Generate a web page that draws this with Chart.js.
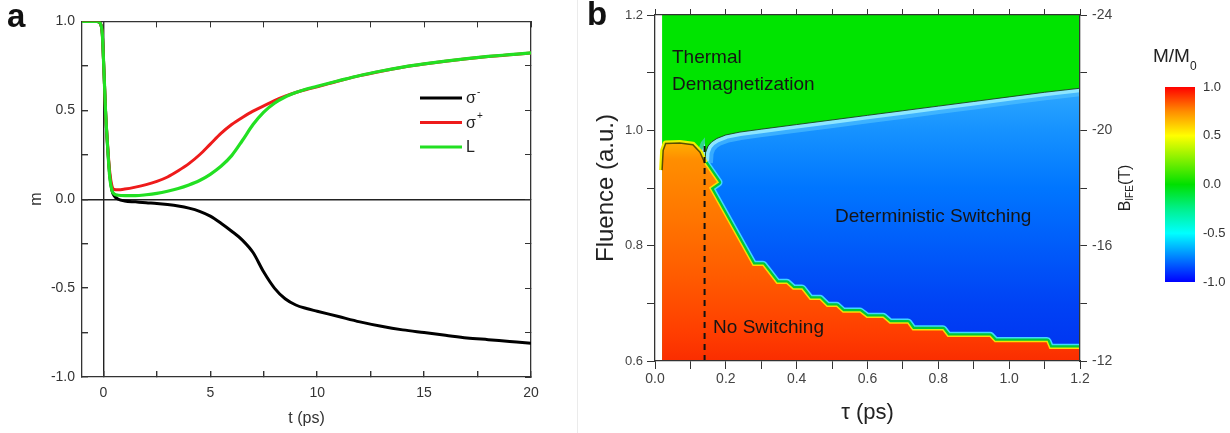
<!DOCTYPE html>
<html>
<head>
<meta charset="utf-8">
<script src="https://cdn.jsdelivr.net/npm/chart.js@4.4.1/dist/chart.umd.min.js"></script>
<style>
  body { margin:0; background:#fff; width:1230px; height:433px; overflow:hidden; position:relative; }
  canvas { position:absolute; top:0; }
  #sep { position:absolute; left:577px; top:0; width:1px; height:433px; background:#ebebeb; }
</style>
</head>
<body>
<canvas id="panelA" width="560" height="433" style="left:0"></canvas>
<div id="sep"></div>
<canvas id="panelB" width="570" height="433" style="left:580px"></canvas>
<canvas id="cbar" width="80" height="433" style="left:1150px"></canvas>
<script>
// ---------- panel a : m(t) ----------
const aTime = [-1, -0.3, -0.15, -0.05, 0, 0.05, 0.1, 0.2, 0.3, 0.4, 0.5, 0.7, 1, 1.5, 2, 2.5, 3, 3.5, 4, 4.5,
  5, 5.5, 6, 6.5, 7, 7.5, 8, 8.5, 9, 9.5, 10, 11, 12, 13, 14, 15, 16, 17, 18, 19, 20];
const sigmaMinus = [1, 1, 0.99, 0.93, 0.8, 0.65, 0.5, 0.29, 0.13, 0.05, 0.02, 0.0, -0.01, -0.015, -0.02,
  -0.024, -0.03, -0.038, -0.05, -0.068, -0.095, -0.135, -0.18, -0.23, -0.3, -0.41, -0.5, -0.56, -0.595, -0.615,
  -0.63, -0.66, -0.69, -0.715, -0.735, -0.75, -0.765, -0.78, -0.79, -0.8, -0.81];
const sigmaPlus = [1, 1, 0.99, 0.93, 0.8, 0.65, 0.5, 0.3, 0.15, 0.075, 0.055, 0.053, 0.057, 0.068, 0.082,
  0.1, 0.125, 0.16, 0.2, 0.25, 0.31, 0.37, 0.42, 0.46, 0.495, 0.525, 0.555, 0.58, 0.6, 0.617,
  0.632, 0.665, 0.695, 0.72, 0.742, 0.76, 0.776, 0.79, 0.802, 0.812, 0.822];
const linearL = [1, 1, 0.99, 0.93, 0.8, 0.65, 0.5, 0.29, 0.12, 0.05, 0.03, 0.022, 0.02, 0.02, 0.025,
  0.033, 0.045, 0.06, 0.08, 0.105, 0.14, 0.185, 0.245, 0.33, 0.42, 0.49, 0.54, 0.575, 0.6, 0.62,
  0.635, 0.666, 0.696, 0.721, 0.743, 0.761, 0.777, 0.791, 0.803, 0.813, 0.823];
const aTimeTicks = [0, 2.5, 5, 7.5, 10, 12.5, 15, 17.5, 20];

// ---------- panel b : phase diagram ----------
const bDomainTau = [0.02, 1.2];
const bDomainF = [1.2, 1.2];
// switching threshold (green / blue border)
const bThreshTau = [0.141, 0.143, 0.15, 0.16, 0.175, 0.2, 0.24, 0.3, 0.4, 0.5, 0.6, 0.7, 0.8, 0.9, 1.0, 1.1, 1.2];
const bThreshF = [0.944, 0.962, 0.973, 0.98, 0.986, 0.992, 0.997, 1.002, 1.01, 1.018, 1.026, 1.034, 1.042, 1.05, 1.058, 1.066, 1.073];
// top of the "no switching" region
const bEdgeTau = [0.02, 0.023, 0.03, 0.07, 0.107, 0.127, 0.141, 0.178, 0.155, 0.277, 0.305, 0.344, 0.372, 0.39,
  0.415, 0.438, 0.466, 0.486, 0.513, 0.531, 0.579, 0.598, 0.644, 0.663, 0.714, 0.728, 0.813, 0.827, 0.946,
  0.96, 1.107, 1.115, 1.2];
const bEdgeF = [0.931, 0.965, 0.977, 0.978, 0.975, 0.962, 0.943, 0.91, 0.9, 0.766, 0.766, 0.735, 0.735, 0.725,
  0.725, 0.707, 0.707, 0.695, 0.695, 0.685, 0.685, 0.676, 0.676, 0.666, 0.666, 0.654, 0.654, 0.643, 0.643,
  0.634, 0.634, 0.622, 0.622];
const bDashTau = [0.14, 0.14];
const bDashF = [0.6, 0.978];
const bNotes = [
  {text: 'Thermal', tau: 0.048, f: 1.125},
  {text: 'Demagnetization', tau: 0.048, f: 1.079},
  {text: 'Deterministic Switching', tau: 0.508, f: 0.85},
  {text: 'No Switching', tau: 0.164, f: 0.657}
];

// ---------- colour bar ----------
const cbarRange = [-1, 1];
const cbarStops = [[1, '#ff0000'], [0.75, '#ff8c00'], [0.5, '#ffff00'], [0.25, '#80f000'], [0, '#00e000'],
  [-0.25, '#00f08c'], [-0.5, '#00ffff'], [-0.75, '#0080ff'], [-1, '#0000ff']];

const FONT = "'Liberation Sans', Arial, sans-serif";
Chart.defaults.font.family = FONT;
Chart.defaults.color = '#333';

const pts = (xs, ys) => xs.map((x, i) => ({x: x, y: ys[i]}));

function vGradient(chart, scaleId, stops) {
  const {ctx, chartArea, scales} = chart;
  if (!chartArea) return 'rgba(0,0,0,0)';
  const s = scales[scaleId];
  const y0 = s.getPixelForValue(stops[0][0]);
  const y1 = s.getPixelForValue(stops[stops.length - 1][0]);
  const g = ctx.createLinearGradient(0, y0, 0, y1);
  stops.forEach(([v, c]) => g.addColorStop(Math.min(1, Math.max(0, (s.getPixelForValue(v) - y0) / (y1 - y0))), c));
  return g;
}

// ---- panel a
const aDecor = {
  id: 'aDecor',
  afterDatasetsDraw(chart) {
    const ctx = chart.ctx;
    ctx.save();
    chart.data.datasets.forEach((ds, i) => {
      const y = 98 + i * 24.5;
      ctx.strokeStyle = ds.borderColor;
      ctx.lineWidth = 3;
      ctx.beginPath();
      ctx.moveTo(420, y);
      ctx.lineTo(462, y);
      ctx.stroke();
      const base = ds.label.replace(/[⁻⁺]/, '');
      const sup = ds.label.includes('⁻') ? '-' : (ds.label.includes('⁺') ? '+' : '');
      ctx.fillStyle = '#222';
      ctx.font = '16px ' + FONT;
      ctx.textBaseline = 'middle';
      ctx.fillText(base, 466, y + 1);
      if (sup) {
        const w = ctx.measureText(base).width;
        ctx.font = '10px ' + FONT;
        ctx.fillText(sup, 466 + w + 1, y - 6);
      }
    });
    ctx.fillStyle = '#111';
    ctx.font = 'bold 33px ' + FONT;
    ctx.textBaseline = 'alphabetic';
    ctx.fillText('a', 7, 27);
    ctx.restore();
  }
};

new Chart(document.getElementById('panelA'), {
  type: 'line',
  data: {
    datasets: [
      {label: 'σ⁻', data: pts(aTime, sigmaMinus), borderColor: '#000000', borderWidth: 3, order: 3},
      {label: 'σ⁺', data: pts(aTime, sigmaPlus), borderColor: '#ee1b1b', borderWidth: 3, order: 2},
      {label: 'L', data: pts(aTime, linearL), borderColor: '#22e022', borderWidth: 3.2, order: 1}
    ]
  },
  options: {
    responsive: false, animation: false, devicePixelRatio: 1,
    layout: {padding: {left: 24, top: 12, right: 29, bottom: 0}},
    elements: {point: {radius: 0}, line: {cubicInterpolationMode: 'monotone', fill: false}},
    plugins: {legend: {display: false}, tooltip: {enabled: false}},
    scales: {
      x: {
        type: 'linear', min: -1, max: 20,
        afterBuildTicks: s => { s.ticks = aTimeTicks.map(v => ({value: v})); },
        afterFit: s => { s.height = 56; },
        border: {color: '#333', width: 1.3},
        grid: {color: c => (c.tick && c.tick.value === 0) ? '#222' : 'rgba(0,0,0,0)', lineWidth: 1.4,
               tickColor: '#333', tickLength: -6},
        ticks: {padding: 14, font: {size: 14}, color: '#333', maxRotation: 0, autoSkip: false,
                callback: v => v % 5 === 0 ? String(v) : ''},
        title: {display: true, text: 't (ps)', font: {size: 16}, color: '#333', padding: {top: 0, bottom: 5}}
      },
      x2: {
        type: 'linear', position: 'top', min: -1, max: 20,
        afterBuildTicks: s => { s.ticks = aTimeTicks.map(v => ({value: v})); },
        afterFit: s => { s.height = 0; },
        border: {color: '#333', width: 1.3},
        grid: {drawOnChartArea: false, tickColor: '#333', tickLength: -6},
        ticks: {display: false}
      },
      y: {
        type: 'linear', min: -1, max: 1,
        afterFit: s => { s.width = 58; },
        border: {color: '#333', width: 1.3},
        grid: {color: c => (c.tick && c.tick.value === 0) ? '#222' : 'rgba(0,0,0,0)', lineWidth: 1.4,
               tickColor: '#333', tickLength: -6},
        ticks: {stepSize: 0.25, padding: 13, font: {size: 14}, color: '#333',
                callback: (v, i) => i % 2 ? '' : v.toFixed(1)},
        title: {display: true, text: 'm', font: {size: 16}, color: '#333', padding: {top: 3, bottom: 0}}
      },
      y2: {
        type: 'linear', position: 'right', min: -1, max: 1,
        afterFit: s => { s.width = 0; },
        border: {color: '#333', width: 1.3},
        grid: {drawOnChartArea: false, tickColor: '#333', tickLength: -6},
        ticks: {display: false, stepSize: 0.25}
      }
    }
  },
  plugins: [aDecor]
});

// ---- panel b
const bDecor = {
  id: 'bDecor',
  afterDatasetsDraw(chart) {
    const {ctx, scales} = chart;
    ctx.save();
    ctx.fillStyle = '#151515';
    ctx.font = '19px ' + FONT;
    ctx.textBaseline = 'middle';
    bNotes.forEach(n => ctx.fillText(n.text, scales.x.getPixelForValue(n.tau), scales.y.getPixelForValue(n.f)));
    ctx.restore();
  },
  afterDraw(chart) {
    const ctx = chart.ctx;
    ctx.save();
    // right axis title B_IFE(T), reading upwards
    ctx.translate(550, 188);
    ctx.rotate(-Math.PI / 2);
    ctx.fillStyle = '#222';
    ctx.textBaseline = 'alphabetic';
    ctx.font = '16px ' + FONT;
    const wB = ctx.measureText('B').width;
    const wT = ctx.measureText('(T)').width;
    ctx.font = '10px ' + FONT;
    const wS = ctx.measureText('IFE').width;
    let x = -(wB + wS + wT) / 2;
    ctx.font = '16px ' + FONT;
    ctx.fillText('B', x, 0);
    x += wB;
    ctx.font = '10px ' + FONT;
    ctx.fillText('IFE', x, 3);
    x += wS;
    ctx.font = '16px ' + FONT;
    ctx.fillText('(T)', x, 0);
    ctx.restore();
    ctx.save();
    ctx.fillStyle = '#111';
    ctx.font = 'bold 33px ' + FONT;
    ctx.fillText('b', 7, 25);
    ctx.restore();
  }
};

const green = 'rgb(0,228,0)';
const blueStops = [[1.073, 'rgb(45,168,255)'], [1.0, 'rgb(22,146,255)'], [0.9, 'rgb(0,118,255)'],
  [0.8, 'rgb(0,92,250)'], [0.7, 'rgb(0,66,245)'], [0.6, 'rgb(0,50,240)']];
const orangeStops = [[0.98, 'rgb(255,178,0)'], [0.95, 'rgb(255,142,0)'], [0.85, 'rgb(255,118,0)'],
  [0.75, 'rgb(255,92,0)'], [0.65, 'rgb(255,62,0)'], [0.6, 'rgb(250,45,0)']];
const onGreen = c => c.p0.parsed.x < 0.14;

new Chart(document.getElementById('panelB'), {
  type: 'line',
  data: {
    datasets: [
      {label: 'thermal', data: pts(bDomainTau, bDomainF), fill: 'start', backgroundColor: green,
       borderWidth: 0, order: 10},
      {label: 'switching', data: pts(bThreshTau, bThreshF), fill: 'start',
       backgroundColor: c => vGradient(c.chart, 'y', blueStops), borderWidth: 0, order: 9},
      {label: 'threshold halo', data: pts(bThreshTau, bThreshF), fill: false, borderJoinStyle: 'round',
       borderColor: 'rgba(90,200,255,0.55)', borderWidth: 16, order: 8},
      {label: 'threshold glow', data: pts(bThreshTau, bThreshF), fill: false, borderJoinStyle: 'round',
       borderColor: 'rgba(150,235,255,0.9)', borderWidth: 8, order: 7},
      {label: 'thermal cover', data: pts(bThreshTau, bThreshF), fill: 'end', backgroundColor: green,
       borderColor: 'rgba(25,55,25,0.85)', borderWidth: 1, order: 6},
      {label: 'edge glow', data: pts(bEdgeTau, bEdgeF), fill: false, borderWidth: 9, borderJoinStyle: 'round',
       borderColor: '#3fd8ff', segment: {borderColor: c => onGreen(c) ? 'rgba(0,0,0,0)' : '#3fd8ff'}, order: 5},
      {label: 'edge band', data: pts(bEdgeTau, bEdgeF), fill: false, borderWidth: 6, borderJoinStyle: 'round',
       borderColor: '#00c838', segment: {borderColor: c => onGreen(c) ? '#eef000' : '#00c838'}, order: 4},
      {label: 'no switching', data: pts(bEdgeTau, bEdgeF), fill: 'start',
       backgroundColor: c => vGradient(c.chart, 'y', orangeStops), borderWidth: 1.5,
       borderColor: 'rgba(255,235,0,0.9)',
       segment: {borderColor: c => onGreen(c) ? 'rgba(50,50,0,0.8)' : 'rgba(255,235,0,0.9)'}, order: 3},
      {label: 'tau limit', data: pts(bDashTau, bDashF), fill: false, borderColor: '#111', borderWidth: 2,
       borderDash: [6, 5], order: 1}
    ]
  },
  options: {
    responsive: false, animation: false, devicePixelRatio: 1,
    layout: {padding: {left: 8, top: 0, right: 0, bottom: 0}},
    elements: {point: {radius: 0}, line: {tension: 0}},
    plugins: {legend: {display: false}, tooltip: {enabled: false}},
    scales: {
      x: {
        type: 'linear', min: 0, max: 1.2,
        afterFit: s => { s.height = 72; },
        border: {color: '#333', width: 1.3, z: 1},
        grid: {drawOnChartArea: false, tickColor: '#333', tickLength: 8},
        ticks: {stepSize: 0.1, autoSkip: false, maxRotation: 0, padding: 2, font: {size: 14}, color: '#444',
                callback: (v, i) => i % 2 ? '' : v.toFixed(1)},
        title: {display: true, text: 'τ (ps)', font: {size: 22}, color: '#222', padding: {top: 0, bottom: 7}}
      },
      x2: {
        type: 'linear', position: 'top', min: 0, max: 1.2,
        afterFit: s => { s.height = 15; },
        border: {color: '#333', width: 1.3, z: 1},
        grid: {drawOnChartArea: false, tickColor: '#333', tickLength: 6},
        ticks: {display: false, stepSize: 0.1}
      },
      y: {
        type: 'linear', min: 0.6, max: 1.2,
        afterFit: s => { s.width = 67; },
        border: {color: '#333', width: 1.3, z: 1},
        grid: {drawOnChartArea: false, tickColor: '#333', tickLength: 8},
        ticks: {stepSize: 0.1, padding: 4, font: {size: 13}, color: '#444',
                callback: (v, i) => i % 2 ? '' : v.toFixed(1)},
        title: {display: true, text: 'Fluence (a.u.)', font: {size: 24}, color: '#222', padding: {top: 4, bottom: 0}}
      },
      y2: {
        type: 'linear', position: 'right', min: -24, max: -12, reverse: true,
        afterFit: s => { s.width = 70; },
        border: {color: '#333', width: 1.3, z: 1},
        grid: {drawOnChartArea: false, tickColor: '#333', tickLength: 7},
        ticks: {stepSize: 2, padding: 5, font: {size: 14}, color: '#444',
                callback: (v, i) => i % 2 ? '' : String(v)}
      }
    }
  },
  plugins: [bDecor]
});

// ---- colour bar
const cbarDecor = {
  id: 'cbarDecor',
  afterDraw(chart) {
    const ctx = chart.ctx;
    ctx.save();
    ctx.fillStyle = '#222';
    ctx.textBaseline = 'alphabetic';
    ctx.font = '19px ' + FONT;
    ctx.fillText('M/M', 3, 62);
    const w = ctx.measureText('M/M').width;
    ctx.font = '12px ' + FONT;
    ctx.fillText('0', 3 + w, 70);
    ctx.restore();
  }
};

new Chart(document.getElementById('cbar'), {
  type: 'bar',
  data: {
    labels: ['M/M0'],
    datasets: [{
      label: 'M/M0', data: [cbarRange],
      backgroundColor: c => vGradient(c.chart, 'y', cbarStops),
      borderWidth: 0, barPercentage: 1, categoryPercentage: 1
    }]
  },
  options: {
    responsive: false, animation: false, devicePixelRatio: 1,
    layout: {padding: {left: 15, top: 87, right: 0, bottom: 151}},
    plugins: {legend: {display: false}, tooltip: {enabled: false}},
    scales: {
      x: {display: false},
      y: {
        position: 'right', min: -1, max: 1,
        afterFit: s => { s.width = 35; },
        border: {display: false},
        grid: {display: false, drawTicks: false},
        ticks: {stepSize: 0.5, padding: 8, font: {size: 13}, color: '#333', callback: v => v.toFixed(1)}
      }
    }
  },
  plugins: [cbarDecor]
});
</script>
</body>
</html>
